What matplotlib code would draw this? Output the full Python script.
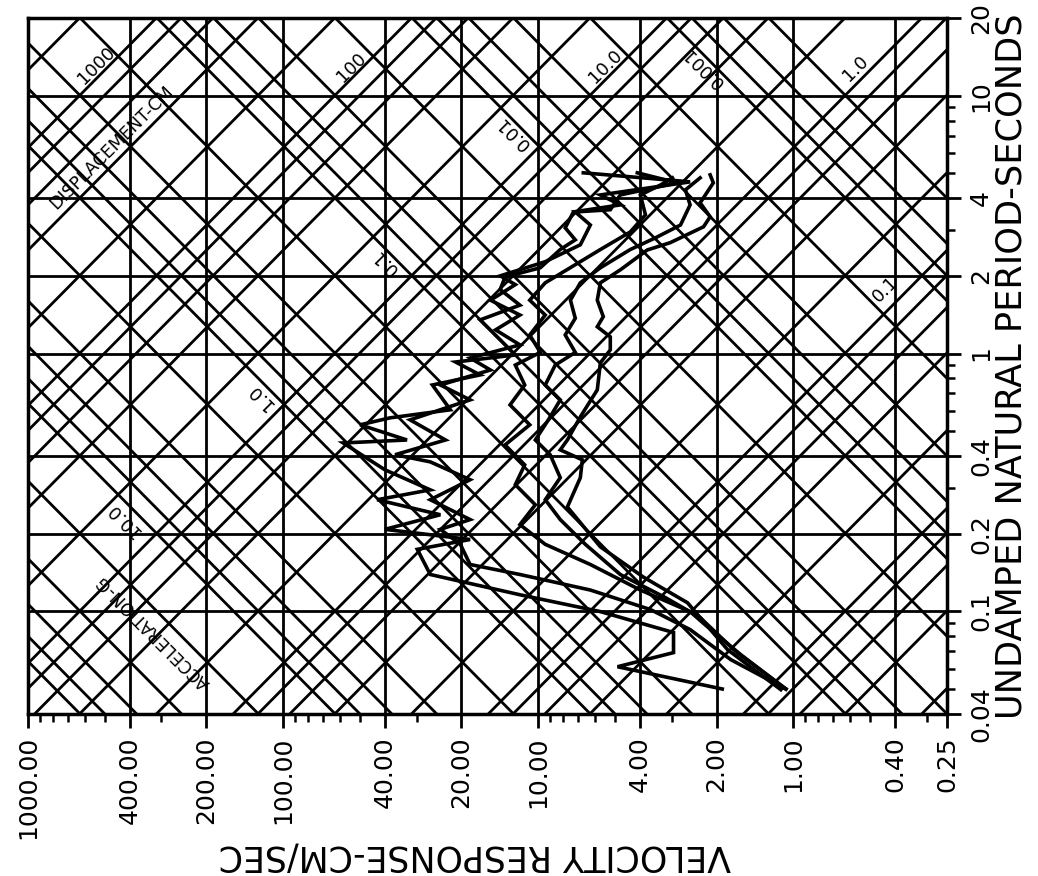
import numpy as np
import matplotlib
matplotlib.use("Agg")
import matplotlib.pyplot as plt
from matplotlib.ticker import FixedLocator, LogLocator, NullFormatter

# ---------------- data ----------------
vel_ticks = [1000, 400, 200, 100, 40, 20, 10, 4, 2, 1, 0.4, 0.25]
vel_labels = ["1000.00", "400.00", "200.00", "100.00", "40.00", "20.00",
              "10.00", "4.00", "2.00", "1.00", "0.40", "0.25"]
per_ticks = [0.04, 0.1, 0.2, 0.4, 1, 2, 4, 10, 20]
per_labels = ["0.04", "0.1", "0.2", "0.4", "1", "2", "4", "10", "20"]

grid_mantissas = [1, 2, 4, 6, 8]
disp_exponents = [-3, -2, -1, 0, 1, 2, 3]
acc_exponents = [-4, -3, -2, -1, 0, 1, 2]
acc_min = 4e-4

disp_label_values = ["1000", "100", "10.0", "1.0", "0.1"]
acc_label_values = ["0.001", "0.01", "0.1", "1.0", "10.0"]

# spectra: period (s) and pseudo-velocity (cm/s), 5 damping values
T0 = [0.05, 0.061, 0.0692, 0.0828, 0.0998, 0.116, 0.139, 0.174, 0.190, 0.208, 0.237,
      0.271, 0.296, 0.354, 0.450, 0.462, 0.529, 0.563, 0.605, 0.755, 0.826, 0.927,
      0.987, 1.13, 1.35, 1.54, 1.77, 1.98, 2.15, 2.53, 2.76, 3.07, 3.54, 3.77, 4.12,
      4.63, 5.02]
V0 = [1.90, 4.89, 2.95, 2.95, 5.71, 11.8, 26.5, 29.8, 18.5, 39.9, 24.2,
      42.8, 26.5, 39.9, 58.2, 32.7, 49.9, 38.1, 22.1, 26.0, 16.9, 21.1,
      12.3, 14.1, 16.9, 11.8, 14.1, 13.5, 9.82, 8.20, 7.16, 7.84, 7.28, 4.77, 5.71,
      2.54, 6.66]
T1 = [0.05, 0.065, 0.085, 0.1016, 0.121, 0.139, 0.152, 0.182, 0.208, 0.227, 0.271,
      0.324, 0.380, 0.405, 0.462, 0.553, 0.661, 0.755, 0.863, 0.961, 1.08, 1.235,
      1.41, 1.61, 1.85, 2.00, 2.27, 2.64, 3.15, 3.54, 3.61, 4.12, 4.59, 5.02]
V1 = [1.07, 1.76, 2.54, 3.63, 6.25, 11.8, 18.5, 20.2, 24.2, 18.5, 26.5,
      18.5, 26.5, 36.4, 23.1, 31.8, 18.5, 24.2, 15.4, 18.5, 11.8, 14.7,
      11.8, 15.4, 12.3, 14.1, 9.39, 6.84, 6.25, 7.16, 5.22, 4.77, 2.85, 4.09]
T2 = [0.05, 0.068, 0.0888, 0.0998, 0.121, 0.152, 0.182, 0.217, 0.259, 0.310, 0.370,
      0.442, 0.529, 0.632, 0.755, 0.902, 1.01, 1.18, 1.41, 1.61, 1.88, 2.21,
      2.53, 2.96, 3.45, 4.12, 4.50, 4.80]
V2 = [1.07, 1.61, 2.22, 2.54, 3.98, 6.25, 9.39, 11.8, 10.27, 12.3, 11.3,
      13.5, 10.8, 12.9, 11.3, 12.3, 9.82, 10.8, 9.39, 10.8, 9.39, 7.16,
      5.71, 4.36, 3.80, 3.98, 3.32, 2.98]
T3 = [0.05, 0.0698, 0.0946, 0.113, 0.139, 0.182, 0.227, 0.271, 0.330, 0.405, 0.462,
      0.553, 0.661, 0.755, 0.902, 1.01, 1.18, 1.37, 1.61, 1.88, 2.15, 2.53,
      2.81, 3.15, 3.77, 4.31, 4.80]
V3 = [1.07, 1.68, 2.32, 3.17, 4.77, 6.54, 8.20, 9.39, 8.20, 8.98, 10.27,
      9.13, 8.20, 9.39, 8.58, 7.16, 7.84, 7.16, 7.48, 6.84, 5.71, 4.36,
      3.47, 2.77, 2.54, 2.65, 2.32]
T4 = [0.0497, 0.0710, 0.108, 0.136, 0.178, 0.254, 0.330, 0.387, 0.423, 0.462, 0.568,
      0.723, 0.920, 1.033, 1.16, 1.27, 1.39, 1.61, 1.88, 2.11, 2.52, 2.69,
      3.10, 3.39, 3.84, 4.59, 4.93]
V4 = [1.12, 1.81, 2.60, 3.88, 5.71, 7.69, 6.84, 6.72, 8.20, 7.69, 6.84,
      5.87, 5.71, 5.22, 5.22, 5.87, 5.56, 5.87, 5.71, 4.77, 3.74, 3.04,
      2.25, 2.12, 2.32, 2.06, 2.12]

spectra = [(T0, V0), (T1, V1), (T2, V2), (T3, V3), (T4, V4)]

G = 981.0  # cm/s^2
TWO_PI = 2 * np.pi

# ---------------- figure ----------------
plt.rcParams["font.family"] = ["DejaVu Sans"]
fig = plt.figure(figsize=(10.38, 8.76), dpi=100)
ax = fig.add_axes([28 / 1038, 1 - 714 / 876, (947 - 28) / 1038, (714 - 18) / 876])
ax.set_xscale("log")
ax.set_yscale("log")
ax.set_xlim(max(vel_ticks), min(vel_ticks))
ax.set_ylim(min(per_ticks), max(per_ticks))

lw_grid = 2.0
# rectangular grid
for v in vel_ticks:
    ax.axvline(v, color="black", lw=lw_grid, zorder=1)
for t in per_ticks:
    ax.axhline(t, color="black", lw=lw_grid, zorder=1)

# diagonal grid (displacement "/" and acceleration "\")
tt = np.geomspace(0.02, 40, 200)
for e in disp_exponents:
    for m in grid_mantissas:
        d = m * 10.0 ** e
        ax.plot(TWO_PI * d / tt, tt, color="black", lw=lw_grid, zorder=1)
for e in acc_exponents:
    for m in grid_mantissas:
        a = m * 10.0 ** e
        if a < acc_min * 0.999:
            continue
        ax.plot(a * G * tt / TWO_PI, tt, color="black", lw=lw_grid, zorder=1)

# spectra curves
for T, V in spectra:
    ax.plot(V, T, color="black", lw=2.6, zorder=3, solid_joinstyle="miter")

# diagonal labels
fs_diag = 13
disp_label_pos = [(541, 13.1), (54.1, 12.8), (5.46, 13.0), (0.571, 12.7), (0.436, 1.77)]
for txt, (v, t) in zip(disp_label_values, disp_label_pos):
    ax.text(v, t, txt, rotation=45, ha="center", va="center", fontsize=fs_diag,
            rotation_mode="anchor", zorder=2)
ax.text(468, 6.27, "DISPLACEMENT-CM", rotation=45, ha="center", va="center",
        fontsize=12.5, rotation_mode="anchor", zorder=2)

acc_label_pos = [(2.25, 13.0), (12.5, 7.17), (39.8, 2.27), (123, 0.679), (424, 0.2265)]
for txt, (v, t) in zip(acc_label_values, acc_label_pos):
    ax.text(v, t, txt, rotation=135, ha="center", va="center", fontsize=fs_diag,
            rotation_mode="anchor", zorder=2)
ax.text(323, 0.0834, "ACCELERATION-G", rotation=135, ha="center", va="center",
        fontsize=12.5, rotation_mode="anchor", zorder=2)

# ticks
ax.xaxis.set_major_locator(FixedLocator(vel_ticks))
ax.xaxis.set_minor_locator(LogLocator(base=10, subs=np.arange(2, 10)))
ax.xaxis.set_minor_formatter(NullFormatter())
ax.set_xticklabels(vel_labels, rotation=90, fontsize=18)
ax.yaxis.tick_right()
ax.yaxis.set_major_locator(FixedLocator(per_ticks))
ax.yaxis.set_minor_locator(LogLocator(base=10, subs=np.arange(2, 10)))
ax.yaxis.set_minor_formatter(NullFormatter())
ax.set_yticklabels(per_labels, rotation=90, fontsize=18, va="center")
ax.tick_params(axis="both", which="major", direction="out", length=10, width=2, pad=6)
ax.tick_params(axis="both", which="minor", direction="out", length=5.5, width=1.8)
ax.tick_params(top=False, left=False, labelleft=False, labeltop=False)

for s in ax.spines.values():
    s.set_linewidth(2.5)

# axis titles
fig.text(1011 / 1038, 1 - 366 / 876, "UNDAMPED NATURAL PERIOD-SECONDS", rotation=90,
         ha="center", va="center", fontsize=25.3)
fig.text(475 / 1038, 1 - 855 / 876, "VELOCITY RESPONSE-CM/SEC", rotation=180,
         ha="center", va="center", fontsize=25)

fig.savefig("out.png", dpi=100)
